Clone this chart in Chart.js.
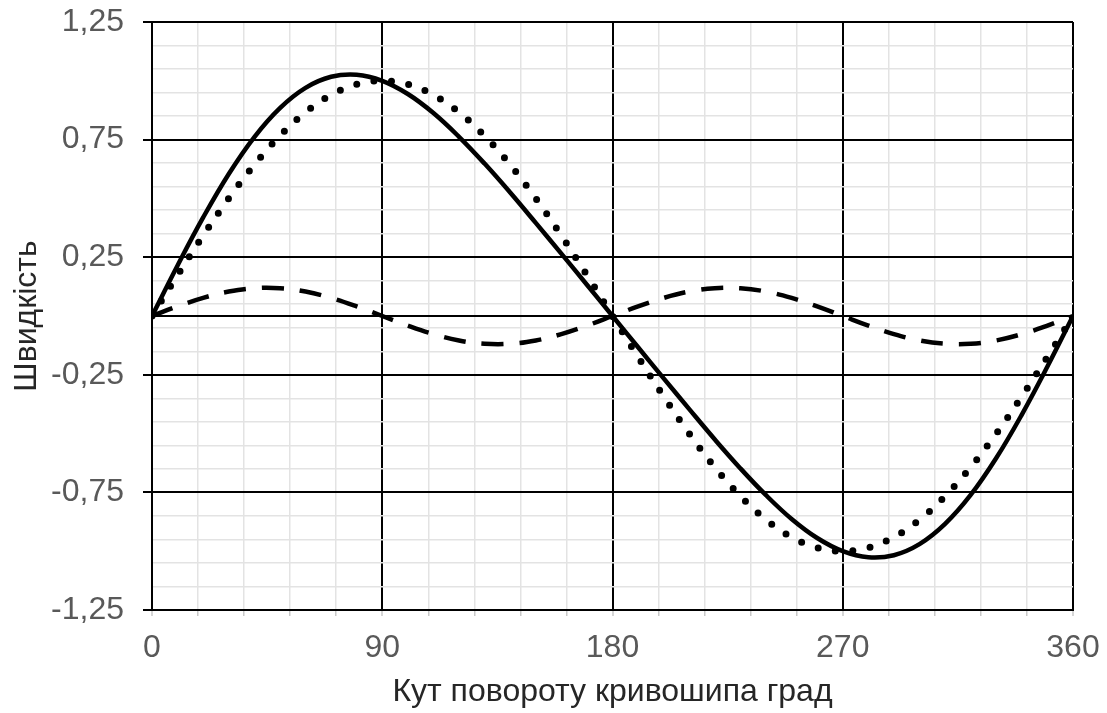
<!DOCTYPE html>
<html>
<head>
<meta charset="utf-8">
<script src="https://cdn.jsdelivr.net/npm/chart.js@4/dist/chart.umd.min.js"></script>
<style>
  html, body { margin: 0; padding: 0; background: #ffffff; }
  #wrap { width: 1107px; height: 713px; position: relative; }
</style>
</head>
<body>
<div id="wrap"><canvas id="c"></canvas></div>
<script>
// ---- data ----
const angles = [0,10,20,30,40,50,60,70,80,90,100,110,120,130,140,150,160,170,180,
                190,200,210,220,230,240,250,260,270,280,290,300,310,320,330,340,350,360];

const velocityTotal = [0,0.215,0.419,0.604,0.761,0.884,0.970,1.017,1.026,1.000,0.944,0.863,0.762,0.648,0.525,0.396,0.265,0.133,0,
                       -0.133,-0.265,-0.396,-0.525,-0.648,-0.762,-0.863,-0.944,-1.000,-1.026,-1.017,-0.970,-0.884,-0.761,-0.604,-0.419,-0.215,0];

const velocityFirst = [0,0.174,0.342,0.500,0.643,0.766,0.866,0.940,0.985,1.000,0.985,0.940,0.866,0.766,0.643,0.500,0.342,0.174,0,
                       -0.174,-0.342,-0.500,-0.643,-0.766,-0.866,-0.940,-0.985,-1.000,-0.985,-0.940,-0.866,-0.766,-0.643,-0.500,-0.342,-0.174,0];

const velocitySecond = [0,0.041,0.077,0.104,0.118,0.118,0.104,0.077,0.041,0,-0.041,-0.077,-0.104,-0.118,-0.118,-0.104,-0.077,-0.041,0,
                        0.041,0.077,0.104,0.118,0.118,0.104,0.077,0.041,0,-0.041,-0.077,-0.104,-0.118,-0.118,-0.104,-0.077,-0.041,0];

const xMajorTicks = [0, 90, 180, 270, 360];
const yMajorTicks = [-1.25, -0.75, -0.25, 0.25, 0.75, 1.25];
const X_MIN = 0, X_MAX = 360, X_MINOR_STEP = 18;
const Y_MIN = -1.25, Y_MAX = 1.25, Y_MINOR_STEP = 0.1;

const xTitle = 'Кут повороту кривошипа град';
const yTitle = 'Швидкість';

// ---- helpers ----
const near = (a, b) => Math.abs(a - b) < 1e-6;
const isXMajor = v => xMajorTicks.some(m => near(m, v));
const isYMajor = v => yMajorTicks.some(m => near(m, v));

const xGridValues = [];
for (let v = X_MIN; v <= X_MAX + 1e-9; v += X_MINOR_STEP) xGridValues.push(Math.round(v * 1000) / 1000);
const yGridValues = [];
for (let v = Y_MIN; v <= Y_MAX + 1e-9; v += Y_MINOR_STEP) yGridValues.push(Math.round(v * 1000) / 1000);
yGridValues.push(0);
yGridValues.sort((a, b) => a - b);

const toPts = arr => angles.map((a, i) => ({ x: a, y: arr[i] }));
const fontFamily = "'Liberation Sans', Arial, sans-serif";
const FS = 32;

new Chart(document.getElementById('c'), {
  type: 'line',
  data: {
    datasets: [
      {
        label: 'Сумарна',
        data: toPts(velocityTotal),
        borderColor: '#000000',
        borderWidth: 4.5,
        pointRadius: 0,
        tension: 0.4,
        fill: false
      },
      {
        label: 'Перша гармоніка',
        data: toPts(velocityFirst),
        borderColor: '#000000',
        borderWidth: 7,
        borderDash: [0, 17.5],
        borderCapStyle: 'round',
        pointRadius: 0,
        tension: 0.4,
        fill: false
      },
      {
        label: 'Друга гармоніка',
        data: toPts(velocitySecond),
        borderColor: '#000000',
        borderWidth: 4.5,
        borderDash: [22, 16],
        borderCapStyle: 'butt',
        pointRadius: 0,
        tension: 0.4,
        fill: false
      }
    ]
  },
  options: {
    responsive: true,
    maintainAspectRatio: false,
    animation: false,
    layout: { padding: { left: 0, right: 34, top: 22, bottom: 0 } },
    plugins: { legend: { display: false }, tooltip: { enabled: false } },
    scales: {
      x: {
        type: 'linear',
        min: X_MIN,
        max: X_MAX,
        afterBuildTicks: s => { s.ticks = xGridValues.map(v => ({ value: v })); },
        afterFit: s => { s.height = 103; s.paddingLeft = 0; s.paddingRight = 0; },
        ticks: {
          autoSkip: false,
          maxRotation: 0,
          padding: 13,
          color: '#595959',
          font: { family: fontFamily, size: FS },
          callback: v => isXMajor(v) ? String(v) : ''
        },
        grid: {
          color: c => isXMajor(c.tick.value) ? '#000000' : '#e3e3e3',
          lineWidth: c => isXMajor(c.tick.value) ? 2 : 1.5,
          tickColor: '#c8c8c8',
          tickLength: 6,
          tickWidth: 1.5
        },
        border: { color: '#000000', width: 2 },
        title: {
          display: true,
          text: xTitle,
          color: '#262626',
          font: { family: fontFamily, size: FS },
          padding: { top: 0, bottom: 2 }
        }
      },
      y: {
        type: 'linear',
        min: Y_MIN,
        max: Y_MAX,
        afterBuildTicks: s => { s.ticks = yGridValues.map(v => ({ value: v })); },
        afterFit: s => { s.width = 152; s.paddingTop = 0; s.paddingBottom = 0; },
        ticks: {
          autoSkip: false,
          padding: 19,
          color: '#595959',
          font: { family: fontFamily, size: FS },
          callback: v => isYMajor(v) ? v.toFixed(2).replace('.', ',') : ''
        },
        grid: {
          color: c => (isYMajor(c.tick.value) || near(c.tick.value, 0)) ? '#000000' : '#e3e3e3',
          lineWidth: c => (isYMajor(c.tick.value) || near(c.tick.value, 0)) ? 2 : 1.5,
          tickColor: c => isYMajor(c.tick.value) ? '#000000' : 'rgba(0,0,0,0)',
          tickLength: 9,
          tickWidth: 2
        },
        border: { color: '#000000', width: 2 },
        title: {
          display: true,
          text: yTitle,
          color: '#262626',
          font: { family: fontFamily, size: FS },
          padding: { top: 8, bottom: 0 }
        }
      }
    }
  }
});
</script>
</body>
</html>
